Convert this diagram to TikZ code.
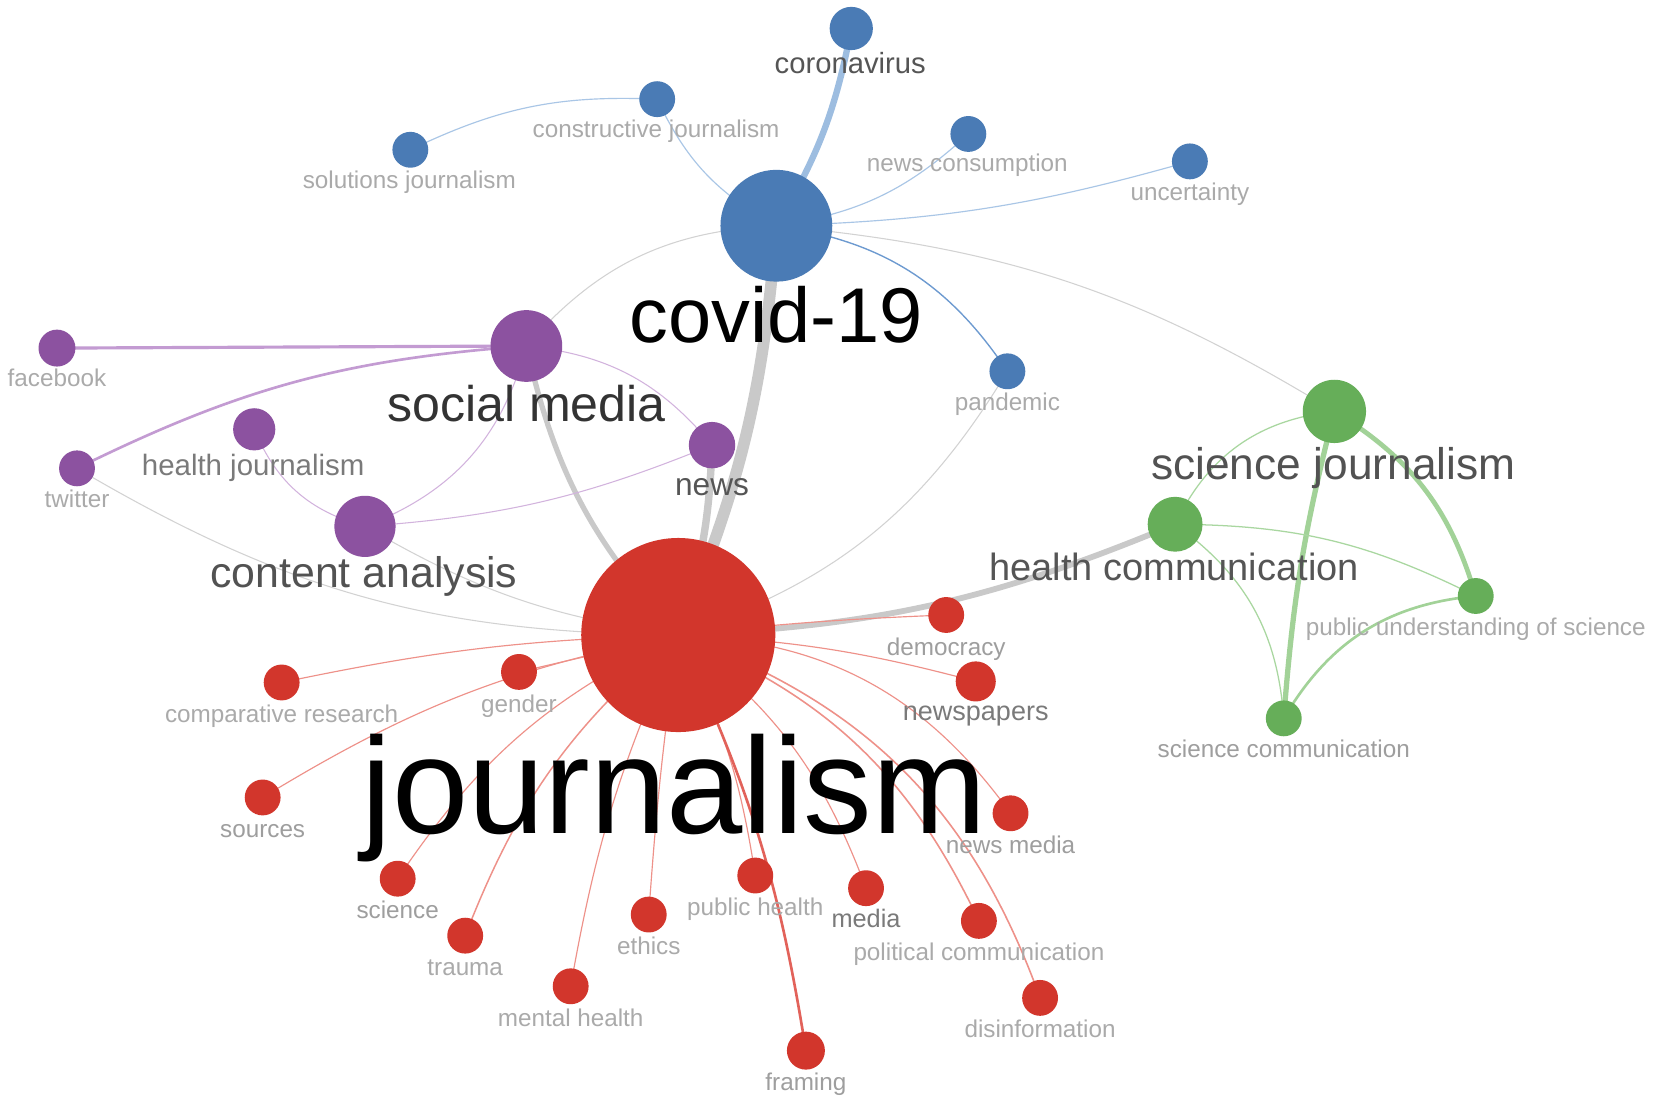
\documentclass[tikz,border=0pt]{standalone}
\usepackage{fontspec}
\setmainfont{Liberation Sans}
\pgfdeclarelayer{bglayer}
\pgfdeclarelayer{lablayer}
\pgfdeclarelayer{edgelayer}
\pgfsetlayers{bglayer,edgelayer,lablayer,main}
\definecolor{cblue}{HTML}{4A7BB5}
\definecolor{cpurple}{HTML}{8C52A0}
\definecolor{cred}{HTML}{D2362C}
\definecolor{cgreen}{HTML}{66AE59}
\definecolor{eblue}{HTML}{A9C6E6}
\definecolor{ebluethick}{HTML}{9DBDE0}
\definecolor{ebluemid}{HTML}{6D9AD0}
\definecolor{egray}{HTML}{C9C9C9}
\definecolor{egraythin}{HTML}{D2D2D2}
\definecolor{epurple}{HTML}{D2B3DD}
\definecolor{epurplethick}{HTML}{C39BD2}
\definecolor{egreen}{HTML}{A9D7A0}
\definecolor{egreenthick}{HTML}{A2D298}
\definecolor{ered}{HTML}{EE9189}
\definecolor{ereddark}{HTML}{E2625A}
\definecolor{tdark}{HTML}{333333}
\definecolor{tmid}{HTML}{555555}
\definecolor{tgray}{HTML}{7A7A7A}
\definecolor{tlight}{HTML}{9E9E9E}
\definecolor{tpale}{HTML}{AAAAAA}
\begin{document}
\begin{tikzpicture}[x=1pt,y=1pt,
  dot/.style={circle, inner sep=0pt, draw=none},
  bdot/.style={dot, fill=cblue},
  pdot/.style={dot, fill=cpurple},
  rdot/.style={dot, fill=cred},
  gdot/.style={dot, fill=cgreen},
  lab/.style={anchor=base, inner sep=0pt, outer sep=0pt},
  fsmall/.style={font=\fontsize{23}{27}\selectfont},
  edge/.style={line cap=round},
  bl/.style={edge, draw=eblue, line width=1.1pt},
  gl/.style={edge, draw=egraythin, line width=1pt},
  pl/.style={edge, draw=epurple, line width=1pt},
  grl/.style={edge, draw=egreen, line width=1.2pt},
  rl/.style={edge, draw=ered, line width=1.1pt},
]
\begin{pgfonlayer}{bglayer}
\fill[white] (0,0) rectangle (1568,-1048);
\end{pgfonlayer}
\useasboundingbox (0,0) rectangle (1568,-1048);

% ---------- nodes ----------
\node[bdot, minimum size=106pt] (cov) at (736,-214) {};
\node[bdot, minimum size=41pt] (corona) at (807,-27) {};
\node[bdot, minimum size=34pt] (constr) at (623,-94) {};
\node[bdot, minimum size=34pt] (solut) at (389,-142) {};
\node[bdot, minimum size=34pt] (newscons) at (918,-127) {};
\node[bdot, minimum size=34pt] (uncert) at (1128,-153) {};
\node[bdot, minimum size=34pt] (pandem) at (955,-352) {};

\node[pdot, minimum size=68pt] (socmed) at (499,-328) {};
\node[pdot, minimum size=35pt] (facebook) at (54,-330) {};
\node[pdot, minimum size=34pt] (twitter) at (73,-444) {};
\node[pdot, minimum size=40pt] (healthj) at (241,-407) {};
\node[pdot, minimum size=44pt] (news) at (675,-422) {};
\node[pdot, minimum size=58pt] (contan) at (346,-499) {};

\node[gdot, minimum size=60pt] (scij) at (1265,-390) {};
\node[gdot, minimum size=52pt] (healthc) at (1114,-497) {};
\node[gdot, minimum size=34pt] (pus) at (1399,-565) {};
\node[gdot, minimum size=34pt] (scicom) at (1217,-681) {};

\node[rdot, minimum size=184pt] (jour) at (643,-602) {};
\node[rdot, minimum size=34pt] (democ) at (897,-583) {};
\node[rdot, minimum size=38pt] (newsp) at (925,-646) {};
\node[rdot, minimum size=34pt] (newsmed) at (958,-771) {};
\node[rdot, minimum size=34pt] (media) at (821,-842) {};
\node[rdot, minimum size=34pt] (polcom) at (928,-873) {};
\node[rdot, minimum size=34pt] (disinf) at (986,-946) {};
\node[rdot, minimum size=36pt] (framing) at (764,-996) {};
\node[rdot, minimum size=34pt] (pubh) at (716,-830) {};
\node[rdot, minimum size=34pt] (ethics) at (615,-867) {};
\node[rdot, minimum size=34pt] (mentalh) at (541,-935) {};
\node[rdot, minimum size=34pt] (trauma) at (441,-887) {};
\node[rdot, minimum size=34pt] (science) at (377,-833) {};
\node[rdot, minimum size=34pt] (sources) at (249,-756) {};
\node[rdot, minimum size=34pt] (compres) at (267,-647) {};
\node[rdot, minimum size=34pt] (gender) at (492,-637) {};

% ---------- labels ----------
\begin{pgfonlayer}{lablayer}
\node[lab, font=\fontsize{27.7}{32}\selectfont, text=tmid] (l-corona) at (806,-70) {coronavirus};
\node[lab, fsmall, text=tpale] (l-constr) at (622,-130) {constructive journalism};
\node[lab, fsmall, text=tpale] (l-solut) at (388,-179) {solutions journalism};
\node[lab, fsmall, text=tpale] (l-newscons) at (917,-163) {news consumption};
\node[lab, fsmall, text=tpale] (l-uncert) at (1128,-190) {uncertainty};
\node[lab, fsmall, text=tpale] (l-pandem) at (955,-389) {pandemic};
\node[lab, font=\fontsize{73.6}{80}\selectfont, text=black] (l-cov) at (736,-325) {covid-19};

\node[lab, font=\fontsize{47.5}{54}\selectfont, text=tdark] (l-socmed) at (499,-400) {social media};
\node[lab, fsmall, text=tpale] (l-facebook) at (54,-366) {facebook};
\node[lab, fsmall, text=tpale] (l-twitter) at (73,-481) {twitter};
\node[lab, font=\fontsize{27.9}{32}\selectfont, text=tgray] (l-healthj) at (240,-451) {health journalism};
\node[lab, font=\fontsize{30}{34}\selectfont, text=tmid] (l-news) at (675,-470) {news};
\node[lab, font=\fontsize{40.6}{46}\selectfont, text=tdark!85!white] (l-contan) at (345,-557) {content analysis};

\node[lab, font=\fontsize{42}{48}\selectfont, text=tdark!85!white] (l-scij) at (1264,-455) {science journalism};
\node[lab, font=\fontsize{36}{42}\selectfont, text=tmid] (l-healthc) at (1113,-550) {health communication};
\node[lab, fsmall, text=tpale] (l-pus) at (1399,-602) {public understanding of science};
\node[lab, fsmall, text=tlight] (l-scicom) at (1217,-718) {science communication};

\node[lab, font=\fontsize{130}{140}\selectfont, text=black] (l-jour) at (639,-790) {journalism};
\node[lab, fsmall, text=tlight] (l-democ) at (897,-621) {democracy};
\node[lab, font=\fontsize{25.6}{30}\selectfont, text=tgray] (l-newsp) at (925,-683) {newspapers};
\node[lab, fsmall, text=tlight] (l-newsmed) at (958,-809) {news media};
\node[lab, font=\fontsize{24}{28}\selectfont, text=tgray] (l-media) at (821,-879) {media};
\node[lab, fsmall, text=tpale] (l-polcom) at (928,-911) {political communication};
\node[lab, fsmall, text=tpale] (l-disinf) at (986,-984) {disinformation};
\node[lab, fsmall, text=tlight] (l-framing) at (764,-1034) {framing};
\node[lab, fsmall, text=tpale] (l-pubh) at (716,-868) {public health};
\node[lab, fsmall, text=tpale] (l-ethics) at (615,-905) {ethics};
\node[lab, fsmall, text=tpale] (l-mentalh) at (541,-973) {mental health};
\node[lab, fsmall, text=tpale] (l-trauma) at (441,-925) {trauma};
\node[lab, fsmall, text=tlight] (l-science) at (377,-871) {science};
\node[lab, fsmall, text=tlight] (l-sources) at (249,-794) {sources};
\node[lab, fsmall, text=tpale] (l-compres) at (267,-685) {comparative research};
\node[lab, fsmall, text=tpale] (l-gender) at (492,-675) {gender};
\end{pgfonlayer}

% ---------- edges ----------
\begin{pgfonlayer}{edgelayer}
% blue cluster
\draw[edge, draw=ebluethick, line width=6pt] (cov.center) to[bend right=10] (corona.center);
\draw[bl] (cov.center) to[bend left=18] (constr.center);
\draw[bl] (constr.center) to[bend right=14] (solut.center);
\draw[bl] (cov.center) to[bend right=17] (newscons.center);
\draw[bl] (cov.center) to[bend right=7] (uncert.center);
\draw[edge, draw=ebluemid, line width=1.3pt] (cov.center) to[bend left=24] (pandem.center);
% gray inter-cluster
\draw[gl] (cov.center) to[bend right=23] (socmed.center);
\draw[gl] (cov.center) to[bend left=13] (scij.center);
\draw[gl] (pandem.center) to[bend left=20] (jour.center);
\draw[gl] (twitter.center) to[bend right=15] (jour.center);
\draw[gl] (contan.center) to[bend right=11] (jour.center);
\draw[edge, draw=egray, line width=11pt] (cov.center) to[bend left=9] (jour.center);
\draw[edge, draw=egray, line width=7pt] (news.center) to[bend left=8] (jour.center);
\draw[edge, draw=egray, line width=5pt] (socmed.center) to[bend right=15] (jour.center);
\draw[edge, draw=egray, line width=5.5pt] (healthc.center) to[bend left=10] (jour.center);
% purple cluster
\draw[edge, draw=epurplethick, line width=3pt] (socmed.center) -- (facebook.center);
\draw[edge, draw=epurplethick, line width=2.5pt] (socmed.center) to[bend right=11] (twitter.center);
\draw[pl] (socmed.center) to[bend left=22] (news.center);
\draw[pl] (socmed.center) to[bend left=27] (contan.center);
\draw[pl] (healthj.center) to[bend right=26] (contan.center);
\draw[pl] (contan.center) to[bend right=9] (news.center);
% green cluster
\draw[grl] (scij.center) to[bend right=29] (healthc.center);
\draw[edge, draw=egreenthick, line width=5pt] (scij.center) to[bend right=5] (scicom.center);
\draw[edge, draw=egreenthick, line width=4.5pt] (scij.center) to[bend left=21] (pus.center);
\draw[grl] (healthc.center) to[bend left=13] (pus.center);
\draw[grl] (healthc.center) to[bend left=25] (scicom.center);
\draw[edge, draw=egreenthick, line width=2.5pt] (pus.center) to[bend right=27] (scicom.center);
% red cluster
\draw[rl] (jour.center) to[bend right=5] (compres.center);
\draw[rl] (jour.center) -- (gender.center);
\draw[rl] (jour.center) to[bend right=10] (sources.center);
\draw[rl] (jour.center) to[bend right=15] (science.center);
\draw[rl, line width=1.4pt] (jour.center) to[bend right=14] (trauma.center);
\draw[rl] (jour.center) to[bend right=7] (mentalh.center);
\draw[rl] (jour.center) to[bend right=2] (ethics.center);
\draw[rl] (jour.center) to[bend left=9] (pubh.center);
\draw[edge, draw=ereddark, line width=2.5pt] (jour.center) to[bend left=8] (framing.center);
\draw[rl] (jour.center) to[bend left=16] (media.center);
\draw[rl, line width=1.5pt] (jour.center) to[bend left=21] (polcom.center);
\draw[rl, line width=1.5pt] (jour.center) to[bend left=25] (disinf.center);
\draw[rl] (jour.center) to[bend left=26] (newsmed.center);
\draw[rl] (jour.center) to[bend left=6] (newsp.center);
\draw[rl] (jour.center) to[bend left=2] (democ.center);
\end{pgfonlayer}
\end{tikzpicture}
\end{document}
